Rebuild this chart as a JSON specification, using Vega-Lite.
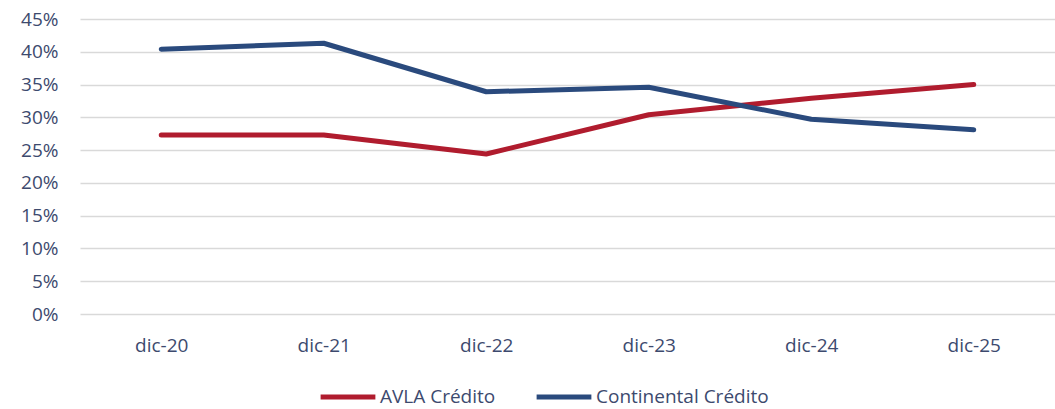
{
  "$schema": "https://vega.github.io/schema/vega-lite/v6.json",
  "width": 975,
  "height": 295,
  "padding": {"left": 80, "top": 19, "right": 0, "bottom": 95},
  "autosize": {"type": "none"},
  "background": "white",
  "config": {
    "view": {"stroke": null},
    "font": "Open Sans",
    "axis": {"labelFont": "Open Sans", "labelColor": "#3d4a6e", "labelFontSize": 19},
    "legend": {"labelFont": "Open Sans", "labelColor": "#3d4a6e", "labelFontSize": 19}
  },
  "data": {
    "values": [
      {"fecha": "dic-20", "serie": "AVLA Crédito", "valor": 0.273},
      {"fecha": "dic-21", "serie": "AVLA Crédito", "valor": 0.273},
      {"fecha": "dic-22", "serie": "AVLA Crédito", "valor": 0.244},
      {"fecha": "dic-23", "serie": "AVLA Crédito", "valor": 0.304},
      {"fecha": "dic-24", "serie": "AVLA Crédito", "valor": 0.329},
      {"fecha": "dic-25", "serie": "AVLA Crédito", "valor": 0.350},
      {"fecha": "dic-20", "serie": "Continental Crédito", "valor": 0.404},
      {"fecha": "dic-21", "serie": "Continental Crédito", "valor": 0.413},
      {"fecha": "dic-22", "serie": "Continental Crédito", "valor": 0.339},
      {"fecha": "dic-23", "serie": "Continental Crédito", "valor": 0.346},
      {"fecha": "dic-24", "serie": "Continental Crédito", "valor": 0.297},
      {"fecha": "dic-25", "serie": "Continental Crédito", "valor": 0.281}
    ]
  },
  "mark": {"type": "line", "strokeWidth": 5, "strokeCap": "round", "strokeJoin": "round"},
  "encoding": {
    "x": {
      "field": "fecha", "type": "ordinal", "sort": null,
      "scale": {"type": "point", "padding": 0.5},
      "axis": {"title": null, "labelAngle": 0, "domain": false, "ticks": false, "grid": false, "labelPadding": 22}
    },
    "y": {
      "field": "valor", "type": "quantitative",
      "scale": {"domain": [0, 0.45]},
      "axis": {"title": null, "format": ".0%", "values": [0, 0.05, 0.1, 0.15, 0.2, 0.25, 0.3, 0.35, 0.4, 0.45], "domain": false, "ticks": false, "gridColor": "#d9d9d9", "gridWidth": 1.3, "labelPadding": 22}
    },
    "color": {
      "field": "serie", "type": "nominal",
      "scale": {"domain": ["AVLA Crédito", "Continental Crédito"], "range": ["#b01c2e", "#2a4a7d"]},
      "legend": {"title": null, "orient": "none", "direction": "horizontal", "legendX": 238, "legendY": 348, "symbolType": "stroke", "symbolSize": 3000, "symbolStrokeWidth": 5, "labelOffset": 2, "columnPadding": 30, "labelLimit": 400}
    }
  }
}
